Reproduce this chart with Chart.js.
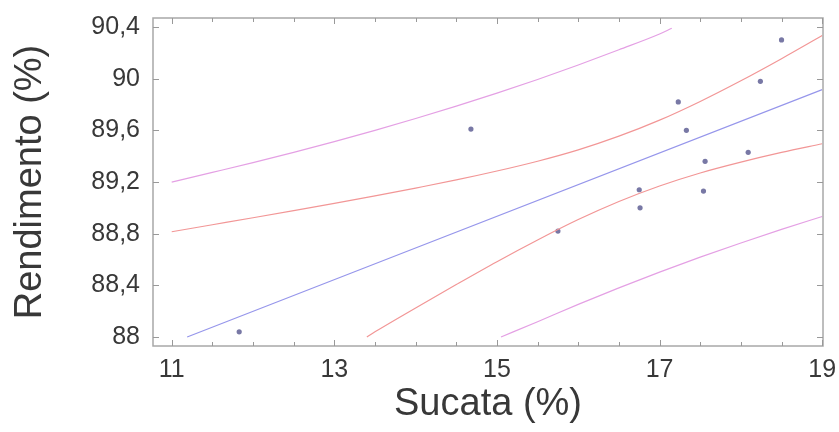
<!DOCTYPE html>
<html>
<head>
<meta charset="utf-8">
<script src="https://cdn.jsdelivr.net/npm/chart.js@4.4.0/dist/chart.umd.min.js"></script>
<style>
  html, body { margin: 0; padding: 0; background: #fff; }
  #wrap { width: 839px; height: 432px; }
</style>
</head>
<body>
<div id="wrap"><canvas id="regChart" width="839" height="432"></canvas></div>
<script>
// observed points
const sucata     = [18.50, 18.24, 17.23, 17.33, 18.09, 17.56, 16.75, 17.54, 16.76, 15.75, 14.68, 11.83];
const rendimento = [90.30, 89.98, 89.82, 89.60, 89.43, 89.36, 89.14, 89.13, 89.00, 88.82, 89.61, 88.04];

// fitted line
const fitX = [11.19, 19];
const fitY = [88.00, 89.915];

// confidence limits (inner, red)
const confUpX = [11, 11.5, 12, 12.5, 13, 13.5, 14, 14.5, 15, 15.5, 16, 16.5, 17, 17.5, 18, 18.5, 19];
const confUpY = [88.815, 88.869, 88.923, 88.978, 89.034, 89.092, 89.153, 89.216, 89.285, 89.361, 89.449, 89.555, 89.679, 89.824, 89.984, 90.155, 90.334];
const confLoX = [13.4, 13.5, 14, 14.5, 15, 15.5, 16, 16.5, 17, 17.5, 18, 18.5, 19];
const confLoY = [88.00, 88.040, 88.225, 88.406, 88.583, 88.751, 88.909, 89.049, 89.169, 89.270, 89.354, 89.429, 89.496];

// prediction limits (outer, magenta)
const predUpX = [11, 11.5, 12, 12.5, 13, 13.5, 14, 14.5, 15, 15.5, 16, 16.5, 17, 17.15];
const predUpY = [89.199, 89.274, 89.350, 89.430, 89.513, 89.600, 89.692, 89.787, 89.888, 89.994, 90.106, 90.224, 90.346, 90.39];
const predLoX = [15.05, 15.5, 16, 16.5, 17, 17.5, 18, 18.5, 19];
const predLoY = [88.00, 88.118, 88.252, 88.380, 88.502, 88.618, 88.728, 88.833, 88.933];

// axes
const xTicks = [11, 13, 15, 17, 19];
const xMinor = [11, 11.5, 12, 12.5, 13, 13.5, 14, 14.5, 15, 15.5, 16, 16.5, 17, 17.5, 18, 18.5, 19];
const yTicks = [88, 88.4, 88.8, 89.2, 89.6, 90, 90.4];
const yLabels = ["88", "88,4", "88,8", "89,2", "89,6", "90", "90,4"];

const zip = (xs, ys) => xs.map((v, i) => ({ x: v, y: ys[i] }));

function curve(xs, ys, color) {
    return {
        type: "line", data: zip(xs, ys), borderColor: color, borderWidth: 1.2,
        pointRadius: 0, fill: false, cubicInterpolationMode: "monotone"
    };
}

// box round the plot with ticks pointing inward
const frame = {
    id: "frame",
    afterDatasetsDraw(chart) {
        const { ctx, chartArea: a, scales: { x, y } } = chart;
        const seg = (x1, y1, x2, y2) => { ctx.beginPath(); ctx.moveTo(x1, y1); ctx.lineTo(x2, y2); ctx.stroke(); };
        ctx.save();
        ctx.strokeStyle = "#a8a8a8";
        ctx.lineWidth = 1.5;
        ctx.strokeRect(a.left, a.top, a.right - a.left, a.bottom - a.top);
        ctx.lineWidth = 1;
        ctx.strokeStyle = "#999";
        xMinor.forEach(v => {
            const px = Math.round(x.getPixelForValue(v)) + 0.5;
            const len = xTicks.includes(v) ? 6 : 4;
            seg(px, a.bottom, px, a.bottom - len);
            seg(px, a.top, px, a.top + len);
        });
        yTicks.forEach(v => {
            const py = Math.round(y.getPixelForValue(v)) + 0.5;
            seg(a.left, py, a.left + 6, py);
            seg(a.right, py, a.right - 6, py);
        });
        ctx.restore();
    }
};

new Chart(document.getElementById("regChart"), {
    type: "scatter",
    data: {
        datasets: [
            curve(predUpX, predUpY, "rgb(228,160,228)"),
            curve(predLoX, predLoY, "rgb(228,160,228)"),
            curve(confUpX, confUpY, "rgb(242,150,150)"),
            curve(confLoX, confLoY, "rgb(242,150,150)"),
            curve(fitX, fitY, "rgb(150,150,235)"),
            {
                data: zip(sucata, rendimento), pointRadius: 2.6, pointStyle: "circle",
                backgroundColor: "rgb(120,120,165)", borderWidth: 0
            }
        ]
    },
    options: {
        responsive: false,
        animation: false,
        layout: { padding: { top: 18, right: 16, left: 0, bottom: 0 } },
        plugins: { legend: { display: false }, tooltip: { enabled: false } },
        scales: {
            x: {
                type: "linear", min: 10.77, max: 19.01,
                afterFit: s => { s.height = 86; s.paddingLeft = 0; s.paddingRight = 0; },
                afterBuildTicks: s => { s.ticks = xTicks.map(v => ({ value: v })); },
                grid: { display: false, drawTicks: false },
                border: { display: false },
                ticks: { padding: 9, color: "#383838", font: { family: "Liberation Sans, Arial", size: 25 } },
                title: {
                    display: true, text: "Sucata (%)", color: "#383838",
                    font: { family: "Liberation Sans, Arial", size: 38 }, padding: { top: 0, bottom: 5 }
                }
            },
            y: {
                type: "linear", min: 87.93, max: 90.47,
                afterFit: s => { s.width = 153; s.paddingTop = 0; s.paddingBottom = 0; },
                afterBuildTicks: s => { s.ticks = yTicks.map(v => ({ value: v })); },
                grid: { display: false, drawTicks: false },
                border: { display: false },
                ticks: {
                    padding: 13, color: "#383838", font: { family: "Liberation Sans, Arial", size: 25 },
                    callback: v => yLabels[yTicks.indexOf(v)]
                },
                title: {
                    display: true, text: "Rendimento (%)", color: "#383838",
                    font: { family: "Liberation Sans, Arial", size: 38 }, padding: { top: 8, bottom: 0 }
                }
            }
        }
    },
    plugins: [frame]
});
</script>
</body>
</html>
